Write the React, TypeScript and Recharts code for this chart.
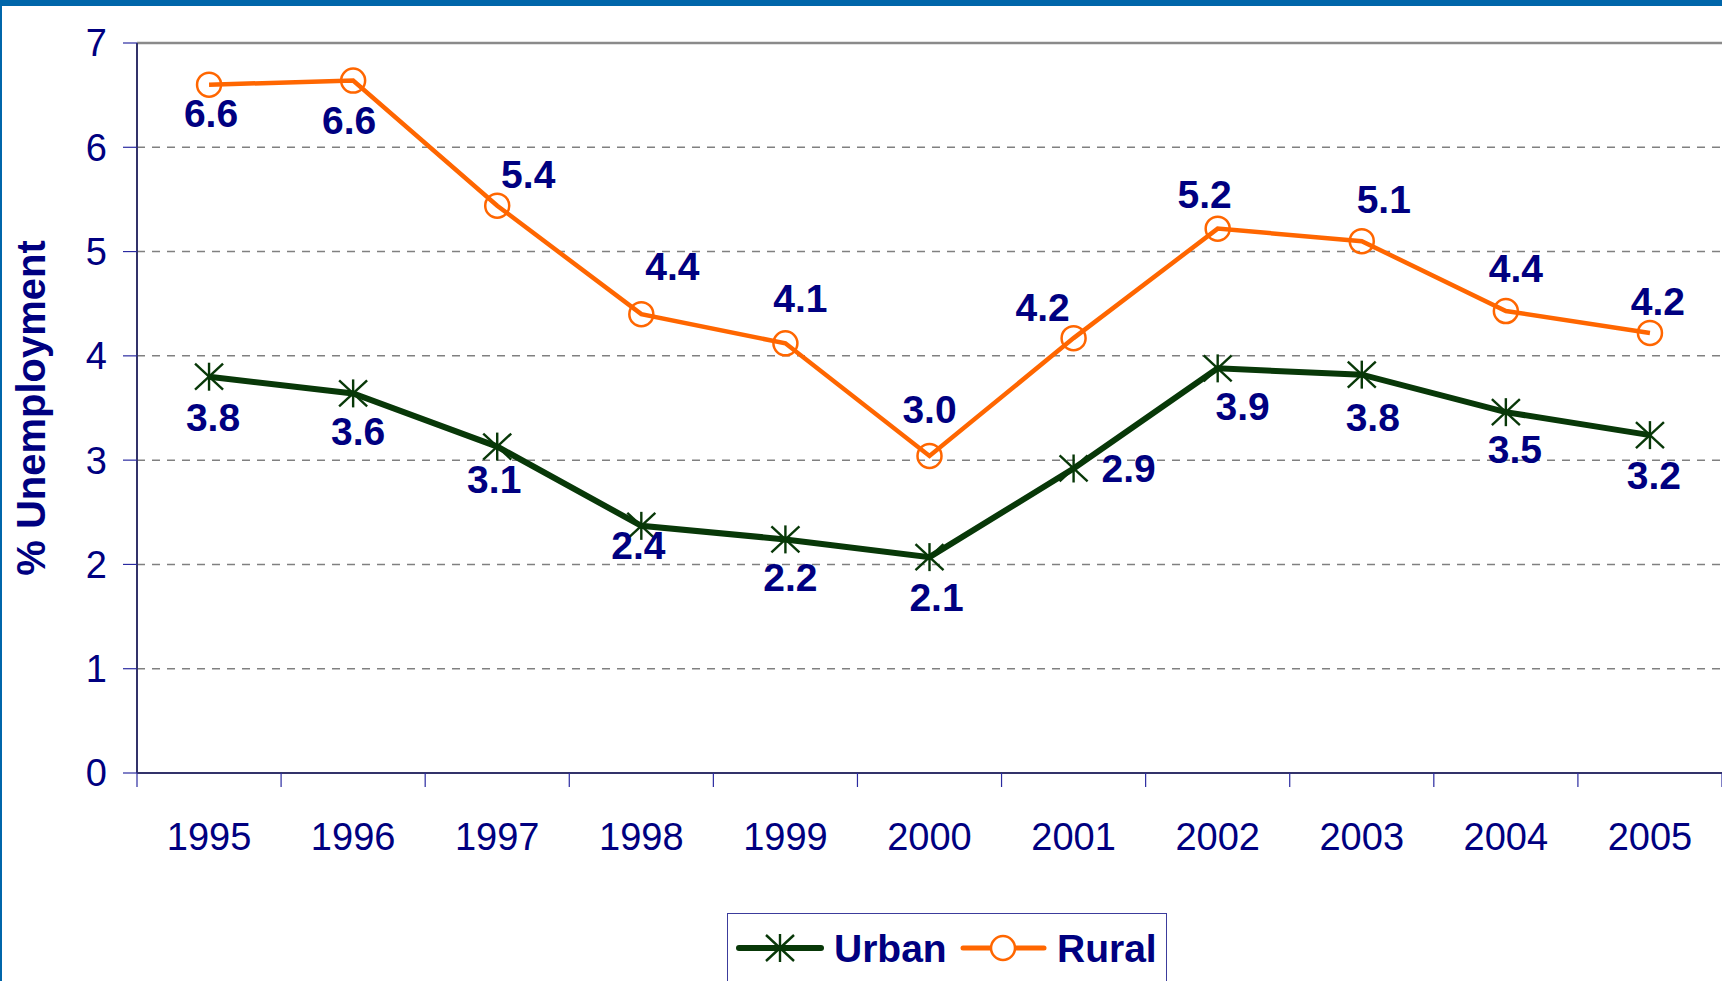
import React from "react";
import {
  LineChart,
  Line,
  XAxis,
  YAxis,
  CartesianGrid,
  Legend,
  LabelList,
  ReferenceLine,
} from "recharts";

const years = ["1995", "1996", "1997", "1998", "1999", "2000", "2001", "2002", "2003", "2004", "2005"];
const urban = [3.8, 3.64, 3.13, 2.37, 2.24, 2.07, 2.92, 3.88, 3.82, 3.46, 3.24];
const rural = [6.6, 6.64, 5.44, 4.4, 4.12, 3.04, 4.17, 5.22, 5.1, 4.43, 4.22];
const yTicks = [0, 1, 2, 3, 4, 5, 6, 7];

// label nudges (px) relative to each point, as placed in the original
const urbanLabelShift = [[4, 41], [5, 38], [-3, 33], [-3, 20], [5, 38], [7, 40], [55, 0], [25, 38], [11, 43], [9, 37], [4, 40]];
const ruralLabelShift = [[2, 29], [-4, 40], [31, -31], [31, -48], [15, -45], [0, -46], [-31, -31], [-13, -34], [22, -42], [10, -43], [8, -31]];

const W = 1722;
const H = 981;
const LEFT = 137;
const TOP = 43;
const X_AXIS_H = 208;
const NAVY = "#000080";
const GREEN = "#083808";
const ORANGE = "#FF6600";
const FONT = "'Liberation Sans', Arial, sans-serif";

const rows = years.map((year, i) => ({
  x: i + 0.5,
  year,
  urban: urban[i],
  rural: rural[i],
}));

const halfBand = (W - LEFT) / years.length / 2;

function YearTick(props: any) {
  const { x, y, payload } = props;
  const i = payload.value;
  if (i >= years.length) return null;
  return (
    <text
      x={x + halfBand}
      y={y + 48}
      textAnchor="middle"
      dominantBaseline="central"
      fill={NAVY}
      fontSize={38}
      fontFamily={FONT}
    >
      {years[i]}
    </text>
  );
}

function Star({ cx, cy, size = 14, color = GREEN }: any) {
  return (
    <g stroke={color} strokeWidth={2.4}>
      <line x1={cx} y1={cy - size} x2={cx} y2={cy + size} />
      <line x1={cx - size} y1={cy - size + 1} x2={cx + size} y2={cy + size - 1} />
      <line x1={cx - size} y1={cy + size - 1} x2={cx + size} y2={cy - size + 1} />
    </g>
  );
}

const makeLabel = (shift: number[][]) => (p: any) => {
  const [dx, dy] = shift[p.index] || [0, 0];
  return (
    <text
      key={p.index}
      x={p.x + dx}
      y={p.y + dy}
      textAnchor="middle"
      dominantBaseline="central"
      fill={NAVY}
      fontSize={39}
      fontWeight="bold"
      fontFamily={FONT}
    >
      {Number(p.value).toFixed(1)}
    </text>
  );
};

function LegendBox() {
  return (
    <div
      style={{
        width: 440,
        height: 72,
        border: "1.5px solid #3c3c9c",
        boxSizing: "border-box",
        background: "#fff",
      }}
    >
      <svg width={437} height={69} style={{ display: "block" }}>
        <line x1={11} y1={34} x2={93} y2={34} stroke={GREEN} strokeWidth={6} strokeLinecap="round" />
        <Star cx={52} cy={34} size={14} />
        <text x={106} y={34} dominantBaseline="central" fill={NAVY} fontSize={39} fontWeight="bold" fontFamily={FONT}>
          Urban
        </text>
        <line x1={235} y1={34} x2={316} y2={34} stroke={ORANGE} strokeWidth={5} strokeLinecap="round" />
        <circle cx={275} cy={34} r={12} fill="#fff" stroke={ORANGE} strokeWidth={2.5} />
        <text x={329} y={34} dominantBaseline="central" fill={NAVY} fontSize={39} fontWeight="bold" fontFamily={FONT}>
          Rural
        </text>
      </svg>
    </div>
  );
}

export default function App() {
  return (
    <div
      style={{
        position: "fixed",
        left: 0,
        top: 0,
        width: W,
        height: H,
        overflow: "hidden",
        background: "#fff",
        fontFamily: FONT,
      }}
    >
      <LineChart width={W} height={H} data={rows} margin={{ top: TOP, right: 0, left: 0, bottom: 0 }}>
        <CartesianGrid vertical={false} stroke="#808080" strokeDasharray="8 7" strokeWidth={1.5} />
        <ReferenceLine y={7} stroke="#8a8a8a" strokeWidth={2.5} />
        <XAxis
          dataKey="x"
          type="number"
          domain={[0, years.length]}
          ticks={years.map((_, i) => i).concat(years.length)}
          interval={0}
          height={X_AXIS_H}
          tickSize={14}
          tick={<YearTick />}
          axisLine={{ stroke: "#33336a", strokeWidth: 2 }}
          tickLine={{ stroke: "#2a2aa0", strokeWidth: 1.2 }}
        />
        <YAxis
          width={LEFT}
          domain={[0, 7]}
          ticks={yTicks}
          interval={0}
          tickSize={14}
          tickMargin={16}
          tick={{ fill: NAVY, fontSize: 38, fontFamily: FONT }}
          axisLine={{ stroke: "#33336a", strokeWidth: 2 }}
          tickLine={{ stroke: "#2a2aa0", strokeWidth: 1.2 }}
          label={{
            content: (p: any) => {
              const vb = p.viewBox || { y: TOP, height: 730 };
              const cy = vb.y + vb.height / 2;
              return (
                <text
                  x={31}
                  y={cy}
                  transform={`rotate(-90 31 ${cy})`}
                  textAnchor="middle"
                  dominantBaseline="central"
                  fill={NAVY}
                  fontSize={40}
                  fontWeight="bold"
                  fontFamily={FONT}
                >
                  % Unemployment
                </text>
              );
            },
          }}
        />
        <Legend
          layout="horizontal"
          verticalAlign="middle"
          align="center"
          wrapperStyle={{ left: 727, top: 913, width: 440, height: 72 }}
          content={() => <LegendBox />}
        />
        <Line
          dataKey="urban"
          name="Urban"
          stroke={GREEN}
          strokeWidth={6}
          dot={(p: any) => <Star key={p.index} cx={p.cx} cy={p.cy} />}
          activeDot={false}
          isAnimationActive={false}
        >
          <LabelList dataKey="urban" content={makeLabel(urbanLabelShift)} />
        </Line>
        <Line
          dataKey="rural"
          name="Rural"
          stroke={ORANGE}
          strokeWidth={4.5}
          dot={(p: any) => (
            <circle key={p.index} cx={p.cx} cy={p.cy} r={12} fill="none" stroke={ORANGE} strokeWidth={2.5} />
          )}
          activeDot={false}
          isAnimationActive={false}
        >
          <LabelList dataKey="rural" content={makeLabel(ruralLabelShift)} />
        </Line>
      </LineChart>
      <div style={{ position: "absolute", left: 0, top: 0, width: W, height: 6, background: "#0066AA" }} />
      <div style={{ position: "absolute", left: 0, top: 0, width: 2, height: H, background: "#0066AA" }} />
    </div>
  );
}
